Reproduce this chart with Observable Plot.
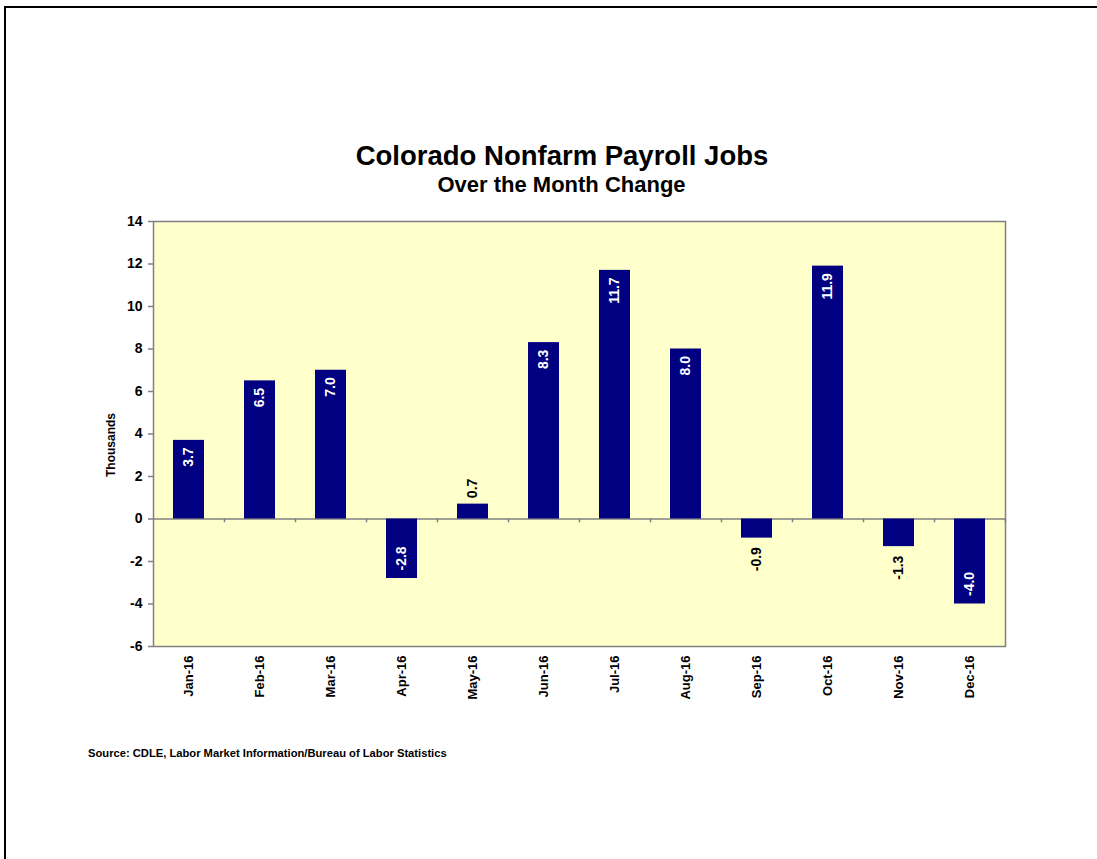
<!DOCTYPE html>
<html>
<head>
<meta charset="utf-8">
<script src="https://cdn.jsdelivr.net/npm/d3@7"></script>
<script src="https://cdn.jsdelivr.net/npm/@observablehq/plot@0.6"></script>
<style>
  html, body { margin: 0; padding: 0; background: #fff; overflow: hidden; width: 1097px; height: 859px; }
  body { position: relative; font-family: "Liberation Sans", Arial, sans-serif; }
  .abs { position: absolute; }
  #bTop { left: 4px; top: 6px; width: 1093px; height: 2px; background: #000; }
  #bLeft { left: 4px; top: 6px; width: 2px; height: 853px; background: #000; }
  #cover { left: 1080px; top: 9px; width: 17px; height: 850px; background: #fff; z-index: 10; }
  #title { left: 0; width: 1124px; top: 142px; text-align: center; font-size: 27.5px; line-height: 27px; font-weight: bold; color: #000; }
  #subtitle { left: 0; width: 1123px; top: 174px; text-align: center; font-size: 22px; line-height: 22px; font-weight: bold; color: #000; }
  #ylabel { left: 11px; top: 438px; width: 200px; height: 14px; line-height: 14px; text-align: center; font-size: 12px; font-weight: bold; transform: rotate(-90deg); transform-origin: 100px 7px; }
  #source { left: 88px; top: 748px; font-size: 11.2px; line-height: 11px; font-weight: bold; color: #000; white-space: nowrap; }
  #chart { left: 0; top: 0; }
</style>
</head>
<body>
<div id="bTop" class="abs"></div>
<div id="bLeft" class="abs"></div>
<div id="title" class="abs">Colorado Nonfarm Payroll Jobs</div>
<div id="subtitle" class="abs">Over the Month Change</div>
<div id="ylabel" class="abs">Thousands</div>
<div id="source" class="abs">Source: CDLE, Labor Market Information/Bureau of Labor Statistics</div>
<div id="chart" class="abs"></div>
<div id="cover" class="abs"></div>
<script>
const months = ["Jan-16","Feb-16","Mar-16","Apr-16","May-16","Jun-16","Jul-16","Aug-16","Sep-16","Oct-16","Nov-16","Dec-16"];
const values = [3.7, 6.5, 7.0, -2.8, 0.7, 8.3, 11.7, 8.0, -0.9, 11.9, -1.3, -4.0];
const yTicks = [-6, -4, -2, 0, 2, 4, 6, 8, 10, 12, 14];

const data = months.map((m, i) => ({month: m, value: values[i], label: values[i].toFixed(1)}));
const insideMin = 2;

const font = {fontFamily: "Liberation Sans, Arial, sans-serif", fontWeight: "bold"};

const chart = Plot.plot({
  width: 1097,
  height: 859,
  marginTop: 221,
  marginBottom: 213,
  marginLeft: 153,
  marginRight: 92,
  style: {background: "transparent", fontFamily: "Liberation Sans, Arial, sans-serif", color: "#000"},
  x: {type: "band", domain: months, paddingInner: 0.56, paddingOuter: 0.28, label: null},
  y: {domain: [-6, 14], label: null},
  marks: [
    Plot.frame({fill: "#FFFFCC", stroke: null}),
    Plot.ruleY([0], {stroke: "#808080", strokeWidth: 1.5}),
    Plot.ruleX(months, {x: d => d, y1: 0, y2: -0.18, dx: 35.5, stroke: "#808080", strokeWidth: 1.5}),
    Plot.barY(data, {x: "month", y: "value", fill: "#000080"}),
    // value labels
    Plot.text(data.filter(d => d.value >= insideMin), {x: "month", y: "value", text: "label", rotate: -90, textAnchor: "end", dy: 7, fill: "#fff", fontSize: 14, ...font}),
    Plot.text(data.filter(d => d.value >= 0 && d.value < insideMin), {x: "month", y: "value", text: "label", rotate: -90, textAnchor: "start", dy: -6, fill: "#000", fontSize: 14, ...font}),
    Plot.text(data.filter(d => d.value <= -insideMin), {x: "month", y: "value", text: "label", rotate: -90, textAnchor: "start", dy: -8, fill: "#fff", fontSize: 14, ...font}),
    Plot.text(data.filter(d => d.value < 0 && d.value > -insideMin), {x: "month", y: "value", text: "label", rotate: -90, textAnchor: "end", dy: 9, fill: "#000", fontSize: 14, ...font}),
    Plot.frame({stroke: "#808080", strokeWidth: 1.5}),
    Plot.axisY({ticks: yTicks, tickSize: 5, stroke: "#808080", strokeWidth: 1.5, text: null, label: null}),
    Plot.axisY({ticks: yTicks, tickSize: 0, tickPadding: 11, tickFormat: d => String(d), fontSize: 14, ...font, fill: "#000", label: null}),
    Plot.axisX({anchor: "bottom", tickSize: 0, tickPadding: 9, tickRotate: -90, fontSize: 13, ...font, fill: "#000", label: null})
  ]
});
document.getElementById("chart").appendChild(chart);
</script>
</body>
</html>
